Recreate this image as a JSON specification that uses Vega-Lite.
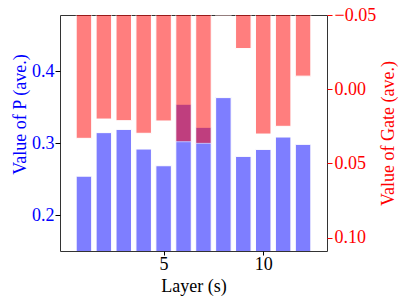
{
  "$schema": "https://vega.github.io/schema/vega-lite/v6.json",
  "width": 267,
  "height": 236,
  "autosize": "none",
  "padding": {"left": 60, "top": 15, "right": 80, "bottom": 54},
  "background": "white",
  "config": {
    "view": {"stroke": "#333333", "strokeWidth": 1},
    "font": "Liberation Serif",
    "style": {"guide-label": {"font": "Liberation Serif"}, "guide-title": {"font": "Liberation Serif"}}
  },
  "data": {
    "values": [
      {"layer": 1, "p": 0.254, "gate": 0.0331},
      {"layer": 2, "p": 0.3145, "gate": 0.0201},
      {"layer": 3, "p": 0.319, "gate": 0.0212},
      {"layer": 4, "p": 0.2917, "gate": 0.0297},
      {"layer": 5, "p": 0.2685, "gate": 0.0214},
      {"layer": 6, "p": 0.354, "gate": 0.0354},
      {"layer": 7, "p": 0.3219, "gate": 0.0365},
      {"layer": 8, "p": 0.3632, "gate": -0.0495},
      {"layer": 9, "p": 0.2815, "gate": -0.0274},
      {"layer": 10, "p": 0.2912, "gate": 0.0302},
      {"layer": 11, "p": 0.3084, "gate": 0.025},
      {"layer": 12, "p": 0.2982, "gate": -0.0088}
    ]
  },
  "encoding": {
    "x": {
      "field": "layer",
      "type": "quantitative",
      "scale": {"domain": [0.05, 12.95], "nice": false, "zero": false},
      "axis": {"values": [5, 10], "title": "Layer (s)", "labelPadding": 0, "titlePadding": 4, "labelColor": "#000000", "titleColor": "#000000",
        "labelFont": "Liberation Serif", "titleFont": "Liberation Serif", "labelFontSize": 18, "titleFontSize": 18, "titleFontWeight": "normal",
        "grid": false, "domain": false, "tickSize": 4, "tickColor": "#000000"}
    }
  },
  "layer": [
    {
      "mark": {"type": "bar", "width": 15.5, "color": "#0000ff", "opacity": 0.5, "stroke": "#ffffff", "strokeWidth": 1, "clip": true},
      "encoding": {
        "y": {
          "field": "p",
          "type": "quantitative",
          "scale": {"domain": [0.15, 0.478], "nice": false, "zero": false},
          "axis": {"orient": "left", "values": [0.2, 0.3, 0.4], "format": ".1f", "title": "Value of P (ave.)", "labelColor": "#0000ff", "titleColor": "#0000ff", "labelPadding": 1, "titlePadding": 2, "titleY": 99,
            "labelFont": "Liberation Serif", "titleFont": "Liberation Serif", "labelFontSize": 18, "titleFontSize": 18, "titleFontWeight": "normal",
            "grid": false, "domain": false, "tickSize": 5, "tickColor": "#000000"}
        },
        "y2": {"datum": 0.14}
      }
    },
    {
      "mark": {"type": "bar", "width": 15.5, "color": "#ff0000", "opacity": 0.5, "stroke": "#ffffff", "strokeWidth": 1, "clip": true},
      "encoding": {
        "y": {
          "field": "gate",
          "type": "quantitative",
          "scale": {"domain": [-0.05, 0.109], "nice": false, "zero": false, "reverse": true},
          "axis": {"orient": "right", "values": [-0.05, 0, 0.05, 0.1], "format": ".2f", "title": "Value of Gate (ave.)", "labelColor": "#ff0000", "titleColor": "#ff0000", "tickColor": "#ff0000", "labelPadding": 2, "titlePadding": 4, "titleAngle": 270, "titleBaseline": "top",
            "labelFont": "Liberation Serif", "titleFont": "Liberation Serif", "labelFontSize": 18, "titleFontSize": 18, "titleFontWeight": "normal",
            "grid": false, "domain": false, "tickSize": 5}
        },
        "y2": {"datum": -0.06}
      }
    }
  ],
  "resolve": {"scale": {"y": "independent"}}
}
